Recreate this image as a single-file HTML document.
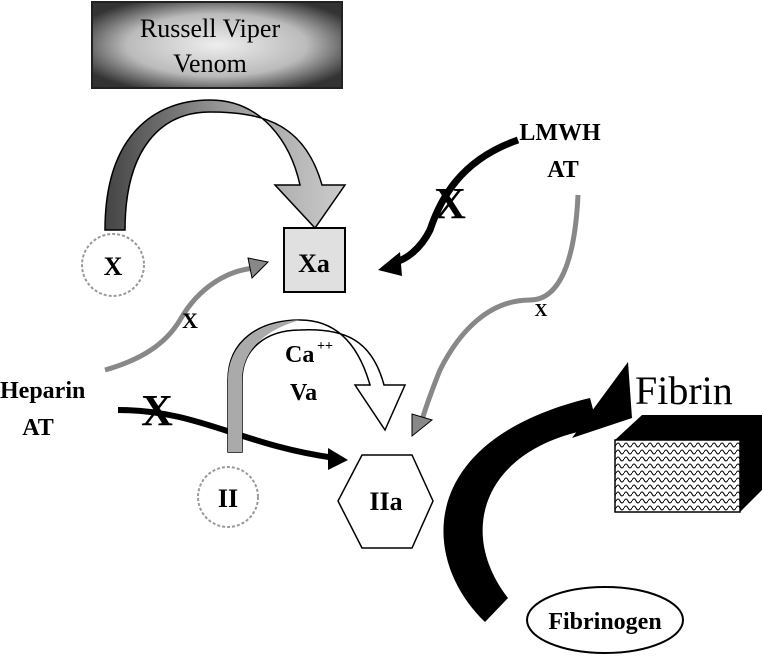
<!DOCTYPE html>
<html><head><style>
html,body{margin:0;padding:0;background:#fff;}
svg{display:block;}
text{font-family:"Liberation Serif",serif;}
</style></head><body>
<svg width="763" height="659" viewBox="0 0 763 659" xmlns="http://www.w3.org/2000/svg">
<defs>
<radialGradient id="rv" cx="50%" cy="50%" r="60%">
<stop offset="0" stop-color="#eee"/><stop offset="0.6" stop-color="#bbb"/><stop offset="1" stop-color="#333"/>
</radialGradient>
<linearGradient id="arc" x1="0" x2="1"><stop offset="0" stop-color="#444"/><stop offset="0.5" stop-color="#999"/><stop offset="1" stop-color="#ccc"/></linearGradient>
<pattern id="mesh" width="8" height="7" patternUnits="userSpaceOnUse">
<rect width="8" height="7" fill="#fff"/>
<path d="M0 4 Q2 0 4 4 Q6 8 8 4" fill="none" stroke="#000" stroke-width="1"/>
</pattern>
</defs>
<rect x="92" y="2" width="250" height="86" fill="url(#rv)" stroke="#222" stroke-width="2"/>
<text x="210" y="37" font-size="26" text-anchor="middle">Russell Viper</text>
<text x="210" y="72" font-size="26" text-anchor="middle">Venom</text>
<path d="M105 230 C105 140 150 100 210 100 C260 100 290 140 300 185 L275 185 L315 228 L345 185 L322 185 C305 125 265 112 210 112 C160 112 125 150 125 230 Z" fill="url(#arc)" stroke="#000" stroke-width="1.5"/>
<circle cx="113" cy="265" r="31" fill="#fff" stroke="#999" stroke-width="2" stroke-dasharray="3 2"/>
<text x="113" y="275" font-size="26" font-weight="bold" text-anchor="middle">X</text>
<rect x="284" y="228" width="61" height="64" fill="#e0e0e0" stroke="#000" stroke-width="2"/>
<text x="314" y="272" font-size="26" font-weight="bold" text-anchor="middle">Xa</text>
<text x="560" y="140" font-size="24" font-weight="bold" text-anchor="middle">LMWH</text>
<text x="563" y="177" font-size="24" font-weight="bold" text-anchor="middle">AT</text>
<path d="M518 140 C460 160 440 200 430 230 C420 250 405 260 395 262" fill="none" stroke="#000" stroke-width="7"/>
<polygon points="378,270 400,252 402,276" fill="#000"/>
<text x="450" y="218" font-size="44" font-weight="bold" text-anchor="middle">X</text>
<path d="M578 195 C575 260 560 300 530 300 C490 300 460 330 440 370 C430 395 425 410 422 420" fill="none" stroke="#888" stroke-width="5"/>
<polygon points="412,436 412,414 432,420" fill="#888" stroke="#000"/>
<text x="541" y="316" font-size="18" font-weight="bold" text-anchor="middle">X</text>
<text x="0" y="398" font-size="24" font-weight="bold">Heparin</text>
<text x="38" y="435" font-size="24" font-weight="bold" text-anchor="middle">AT</text>
<path d="M105 370 C140 360 165 345 180 320 C200 285 230 270 255 268" fill="none" stroke="#888" stroke-width="5"/>
<polygon points="268,262 248,258 252,278" fill="#888" stroke="#000"/>
<text x="190" y="328" font-size="22" font-weight="bold" text-anchor="middle">X</text>
<path d="M118 410 C200 410 240 445 335 458" fill="none" stroke="#000" stroke-width="6"/>
<polygon points="348,460 328,448 328,470" fill="#000"/>
<text x="157" y="425" font-size="44" font-weight="bold" text-anchor="middle">X</text>
<path d="M228 452 L228 380 C228 340 260 320 300 320 C340 320 360 350 370 385 L355 385 L385 430 L405 385 L384 385 C372 340 345 328 300 330 C265 330 242 350 242 380 L242 452 Z" fill="#fff" stroke="#000" stroke-width="1.5"/>
<path d="M228 452 L228 380 C228 345 255 322 300 320 C265 330 242 350 242 380 L242 452 Z" fill="#aaa"/>
<text x="285" y="362" font-size="24" font-weight="bold">Ca</text>
<text x="317" y="350" font-size="14" font-weight="bold">++</text>
<text x="290" y="400" font-size="24" font-weight="bold">Va</text>
<circle cx="228" cy="497" r="30" fill="#fff" stroke="#999" stroke-width="2" stroke-dasharray="3 2"/>
<text x="228" y="507" font-size="26" font-weight="bold" text-anchor="middle">II</text>
<polygon points="362,455 412,455 433,501 412,548 362,548 338,501" fill="#fff" stroke="#000" stroke-width="1.5"/>
<text x="386" y="510" font-size="26" font-weight="bold" text-anchor="middle">IIa</text>
<!-- big black arrow -->
<path d="M485 622 C420 560 415 440 590 398 L598 428 C485 445 455 530 508 598 Z" fill="#000"/>
<polygon points="572,438 628,362 632,418" fill="#000"/>
<text x="635" y="404" font-size="40">Fibrin</text>
<polygon points="615,440 642,415 762,415 762,490 740,512 740,440" fill="#000"/>
<rect x="615" y="440" width="125" height="72" fill="url(#mesh)" stroke="#000" stroke-width="1.5"/>
<ellipse cx="605" cy="620" rx="78" ry="33" fill="#fff" stroke="#000" stroke-width="2"/>
<text x="605" y="629" font-size="24" font-weight="bold" text-anchor="middle">Fibrinogen</text>
</svg>
</body></html>
